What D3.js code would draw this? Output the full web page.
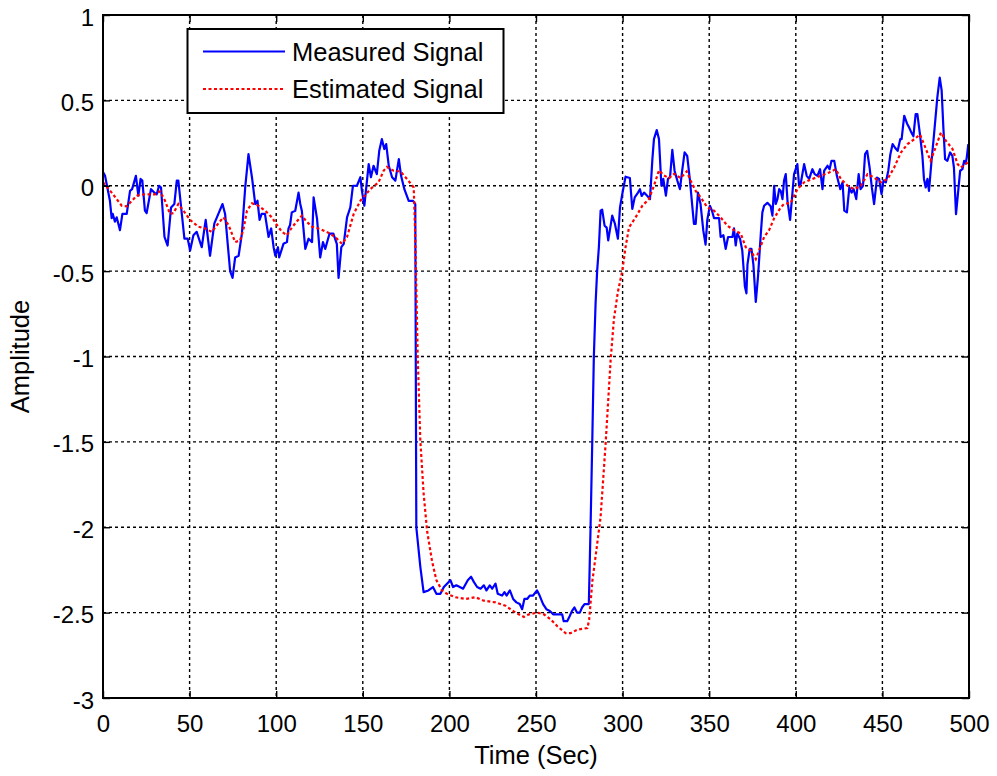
<!DOCTYPE html>
<html><head><meta charset="utf-8">
<script src="https://cdn.jsdelivr.net/npm/d3@7"></script>
<style>
html,body{margin:0;padding:0;background:#fff;}
text{font-family:"Liberation Sans",Arial,Helvetica,sans-serif;fill:#000;}
</style></head>
<body><svg id="chart" width="997" height="776"></svg>
<script>
// ---- data ----
const measuredTime = [0,1.2,4,5,5.6,6.9,7.9,9.8,11.2,13.7,15.6,16.8,19,20.4,21.7,22.7,24.2,25.2,27.7,29.6,31,32.4,33.5,35.5,37.3,39.3,41.2,42.6,43.5,47,48.9,50.3,52.2,54.1,57,59.3,61.8,64.3,66.6,69,70.5,72,73.4,74.8,76.3,78.3,80.2,82.1,84,86,87.9,89.2,90.4,91.6,93.5,95.6,97.1,98.5,99.5,101,101.7,104.2,106.2,107.1,108,109,111,112.9,113.9,114.8,116.8,118.7,120.7,121.6,123.6,125.4,127,128.3,130.8,133,135,136,137.6,139,140.9,142.8,144.3,146.6,148.6,149.5,150.9,153.4,154.7,156.2,158.1,159.5,161,162.4,163.5,165,166.9,168.8,170.8,172.1,174,176.5,179,180.3,180.9,183.2,185.1,187.9,190.5,192.5,194.8,196.8,200.6,202.1,204,206,207.9,210.6,212.5,214.1,216,218,219.9,221.4,223.3,224.7,226.6,227.9,230.4,231.8,233,234.9,236.8,238.7,240.6,242,243.3,244.9,246.4,248.3,250.6,252.1,254.1,256,258,259.9,262.2,265.1,266,268,269.5,270.8,272.2,273.7,275.3,276.6,278,279.5,280.5,281.5,282.5,283.4,284.4,285.3,286.3,287.3,288.2,289.6,290.8,291.7,294,295.5,297.3,298.5,299.8,301.7,304.2,305.6,307,308.9,310,311,312.4,314.3,315.8,317.2,318.1,319.7,321,322.4,323.5,325,326.2,327.4,328.7,330,331.6,333.1,334.4,335.8,337.3,338.9,340.3,341.2,342.2,343.5,345,346.6,347.9,348.9,350.4,351.6,352.8,355.7,356.6,358.2,359.5,360.9,363.4,364.3,365.3,366.2,367.8,369.1,370.6,371.5,372.1,373.4,374.4,375.5,376.9,378.2,379.8,380.7,381.7,383.6,385.5,386.5,387.5,388.4,389.4,390.4,391.3,392.3,393.2,394.2,395.2,396.7,398,399,400.9,401.9,402.8,404.8,406.3,407.7,409.6,410.9,412.5,414,415.4,416.4,418.3,419.5,420.6,422.2,423.7,425.7,427,428,429.5,430.9,432.2,433.4,434.9,436.3,437.4,438.8,440,441.2,442.6,443.9,445.2,446.9,448.1,449.5,450.6,452,453.4,454.6,455.9,457.2,458.8,460.3,461.1,462.6,464.2,465.5,466.8,467.9,469.2,470.2,471.7,473.1,474,475,476,476.9,478.2,479.8,481.7,483.1,484.2,485.2,486.2,487.5,489.1,490.4,491.3,492.5,493.6,494.9,496.2,497.2,498,498.6,499.6];
const measuredValue = [0.08,0.058,-0.088,-0.19,-0.165,-0.21,-0.185,-0.26,-0.165,-0.165,-0.03,-0.02,0.058,-0.058,0.04,0.03,-0.146,-0.16,-0.02,-0.04,-0.05,0,-0.01,-0.3,-0.35,-0.127,-0.107,0.03,0.03,-0.31,-0.31,-0.38,-0.29,-0.27,-0.36,-0.2,-0.41,-0.22,-0.165,-0.107,-0.165,-0.34,-0.5,-0.54,-0.42,-0.41,-0.28,-0.01,0.185,0.05,-0.107,-0.088,-0.2,-0.165,-0.165,-0.3,-0.25,-0.36,-0.41,-0.36,-0.42,-0.34,-0.33,-0.25,-0.23,-0.156,-0.146,-0.04,-0.107,-0.146,-0.37,-0.31,-0.33,-0.068,-0.195,-0.42,-0.33,-0.37,-0.28,-0.28,-0.34,-0.54,-0.36,-0.34,-0.185,-0.127,0,0,0.05,-0.03,-0.117,0.127,0.05,0.117,0.068,0.205,0.273,0.215,0.244,0.117,0.05,0.03,0.156,0.058,-0.02,-0.088,-0.088,-0.107,-2.0,-2.23,-2.38,-2.37,-2.35,-2.39,-2.39,-2.35,-2.31,-2.35,-2.34,-2.35,-2.36,-2.31,-2.29,-2.32,-2.35,-2.36,-2.34,-2.37,-2.34,-2.36,-2.33,-2.39,-2.4,-2.38,-2.4,-2.37,-2.42,-2.44,-2.45,-2.48,-2.42,-2.42,-2.4,-2.4,-2.37,-2.4,-2.45,-2.48,-2.49,-2.51,-2.51,-2.51,-2.55,-2.55,-2.52,-2.49,-2.47,-2.5,-2.5,-2.47,-2.45,-2.45,-2.45,-2.0,-1.49,-1.0,-0.69,-0.5,-0.36,-0.146,-0.14,-0.234,-0.245,-0.32,-0.175,-0.22,-0.31,-0.127,-0.05,0.053,0.045,-0.136,-0.068,-0.04,-0.02,-0.06,-0.04,-0.06,-0.078,0.156,0.273,0.326,0.273,0,0.04,-0.058,0.04,0.05,0.21,0.088,0.03,-0.02,0.088,0.195,0.175,0.03,-0.127,-0.224,-0.224,-0.04,-0.107,-0.263,-0.345,-0.2,-0.117,-0.146,-0.19,-0.19,-0.3,-0.29,-0.37,-0.3,-0.3,-0.25,-0.35,-0.28,-0.31,-0.38,-0.59,-0.63,-0.46,-0.37,-0.37,-0.46,-0.68,-0.53,-0.28,-0.156,-0.117,-0.1,-0.12,-0.175,0,-0.107,-0.078,-0.02,-0.03,-0.078,0.03,0.068,-0.088,-0.2,-0.049,0.068,0.127,0,0.01,0.127,0.058,0.04,0.097,0.068,0.058,0.097,-0.02,0.088,0.117,0.097,0.146,0.146,0.058,-0.02,0.02,-0.146,-0.156,-0.01,-0.04,-0.02,-0.078,0.068,-0.02,0,0.185,0.204,0.107,-0.01,-0.107,0.048,0.04,-0.049,0.03,0.02,0.088,0.185,0.244,0.224,0.204,0.273,0.273,0.41,0.365,0.34,0.31,0.29,0.42,0.42,0.3,0.175,0.04,-0.01,0.04,-0.03,0.127,0.3,0.516,0.633,0.56,0.34,0.156,0.146,0.195,0.175,0.107,-0.166,-0.049,0.088,0.097,0.146,0.13,0.156,0.244];

const estimatedTime = [0,5,10.8,13.7,19.5,24.2,30,33,35.8,38.7,40.7,43.5,46.4,50.3,55.1,59,62.8,66.6,69.5,72.5,76.3,79.2,81.2,83.1,86,89.8,93.6,97.5,100.4,103.3,106.2,109,111,114.8,117.5,120.7,125.4,131.2,135,138,140.9,144.7,148.6,154.3,159.1,162,163.9,167.8,171.7,175.5,179.4,180.3,181.7,183.2,185.1,187.1,190,192.5,195.7,198.6,203.5,209.2,215,219.9,226.6,232.4,238.2,243,245.9,250.8,254.6,258.5,262.3,267.1,270,273.9,279.7,280.7,282.6,283.4,287.3,290.2,293.1,295,297.3,299.8,301.7,303.7,307.5,311.4,315.2,318.1,321,323.9,326.8,329.7,333.5,337,339.3,342.2,345.1,348.9,352.8,356.6,360.5,364.3,368.2,371.1,374,376.9,378.8,381.7,384.6,387.5,391.3,393.2,397.1,400.9,404.8,409.6,414.5,419.3,423.1,426,429.9,433.7,437.6,441.4,445.2,449.1,453,456.8,460.7,464.5,469.2,471.7,474,477.8,480.7,483.8,486.7,490.5,493.4,495.3,499.2,500];
const estimatedValue = [0.02,-0.04,-0.117,-0.12,-0.058,-0.05,-0.05,-0.033,-0.088,-0.165,-0.16,-0.107,-0.146,-0.2,-0.24,-0.25,-0.27,-0.22,-0.185,-0.23,-0.33,-0.32,-0.25,-0.146,-0.103,-0.117,-0.146,-0.185,-0.23,-0.27,-0.29,-0.245,-0.22,-0.175,-0.21,-0.24,-0.253,-0.28,-0.31,-0.34,-0.3,-0.166,-0.088,-0.02,0.02,0.088,0.11,0.088,0.084,0.04,-0.01,-0.3,-1.0,-1.49,-1.8,-2.02,-2.2,-2.31,-2.37,-2.39,-2.41,-2.42,-2.41,-2.43,-2.44,-2.46,-2.5,-2.525,-2.51,-2.5,-2.51,-2.54,-2.58,-2.62,-2.62,-2.6,-2.59,-2.54,-2.31,-2.25,-1.94,-1.51,-1.02,-0.78,-0.62,-0.5,-0.36,-0.244,-0.185,-0.117,-0.078,0,0.09,0.06,0.045,0.07,0.045,0.084,0.03,-0.03,-0.068,-0.127,-0.146,-0.185,-0.234,-0.26,-0.28,-0.36,-0.38,-0.43,-0.38,-0.3,-0.26,-0.19,-0.127,-0.107,-0.1,-0.02,0.02,0.04,0.058,0.078,0.097,0.04,0,-0.02,0,0.068,0.048,0.02,0.04,0.107,0.195,0.244,0.279,0.3,0.244,0.146,0.224,0.312,0.263,0.215,0.127,0.107,0.136,0.14];

const xTicks = [0,50,100,150,200,250,300,350,400,450,500];
const yTicks = [1,0.5,0,-0.5,-1,-1.5,-2,-2.5,-3];
const seriesNames = ["Measured Signal","Estimated Signal"];
const xLabel = "Time (Sec)";
const yLabel = "Amplitude";

// ---- layout ----
const L = 103, R = 969, T = 15, B = 698;
const svg = d3.select("#chart");
const x = d3.scaleLinear().domain([0,500]).range([L,R]);
const y = d3.scaleLinear().domain([-3,1]).range([B,T]);

// grid
const grid = svg.append("g");
grid.selectAll("line.vx").data(xTicks.filter(d=>d>0&&d<500)).enter().append("line")
  .attr("x1",d=>x(d)).attr("x2",d=>x(d)).attr("y1",T).attr("y2",B)
  .attr("stroke","#000").attr("stroke-width",1.4).attr("stroke-dasharray","3,3");
grid.selectAll("line.hy").data(yTicks.filter(d=>d>-3&&d<1)).enter().append("line")
  .attr("x1",L).attr("x2",R).attr("y1",d=>y(d)).attr("y2",d=>y(d))
  .attr("stroke","#000").attr("stroke-width",1.4).attr("stroke-dasharray","3,3");

// lines
const mData = measuredTime.map((t,i)=>[t,measuredValue[i]]);
const eData = estimatedTime.map((t,i)=>[t,estimatedValue[i]]);
const line = d3.line().x(d=>x(d[0])).y(d=>y(d[1]));
svg.append("path").attr("d",line(mData)).attr("fill","none").attr("stroke","#0000ff").attr("stroke-width",2.2).attr("stroke-linejoin","round");
svg.append("path").attr("d",line(eData)).attr("fill","none").attr("stroke","#ff0000").attr("stroke-width",2.2).attr("stroke-dasharray","3,2.5");

// axes (ticks inward, labels)
const tickLen = 7;
const xb = svg.append("g").attr("transform",`translate(0,${B})`)
  .call(d3.axisBottom(x).tickValues(xTicks).tickSize(-tickLen).tickPadding(17).tickFormat(d3.format("d")));
const xt = svg.append("g").attr("transform",`translate(0,${T})`)
  .call(d3.axisTop(x).tickValues(xTicks).tickSize(-tickLen).tickFormat(""));
const yl = svg.append("g").attr("transform",`translate(${L},0)`)
  .call(d3.axisLeft(y).tickValues(yTicks).tickSize(-tickLen).tickPadding(9).tickFormat(d=>String(d)));
const yr = svg.append("g").attr("transform",`translate(${R},0)`)
  .call(d3.axisRight(y).tickValues(yTicks).tickSize(-tickLen).tickFormat(""));
[xb,xt,yl,yr].forEach(g=>{
  g.select(".domain").remove();
  g.selectAll(".tick line").attr("stroke","#000").attr("stroke-width",1.4);
  g.selectAll("text").attr("font-size",24).attr("font-family","Liberation Sans, Arial, sans-serif").attr("fill","#000");
});
yl.selectAll("text").attr("dy","0.42em");
// frame
svg.append("rect").attr("x",L).attr("y",T).attr("width",R-L).attr("height",B-T)
  .attr("fill","none").attr("stroke","#000").attr("stroke-width",2);

// axis labels
svg.append("text").attr("x",(L+R)/2).attr("y",764).attr("text-anchor","middle").attr("font-size",25.5).text(xLabel);
svg.append("text").attr("transform",`translate(29,${(T+B)/2}) rotate(-90)`).attr("text-anchor","middle").attr("font-size",25.5).text(yLabel);

// legend
const lg = svg.append("g");
lg.append("rect").attr("x",187.5).attr("y",29).attr("width",316).attr("height",84)
  .attr("fill","#fff").attr("stroke","#000").attr("stroke-width",2);
const legY = [51.5, 89];
const legStyles = [{c:"#0000ff",dash:null},{c:"#ff0000",dash:"3,2.5"}];
seriesNames.forEach((n,i)=>{
  const l = lg.append("line").attr("x1",203).attr("x2",285).attr("y1",legY[i]).attr("y2",legY[i])
    .attr("stroke",legStyles[i].c).attr("stroke-width",2);
  if(legStyles[i].dash) l.attr("stroke-dasharray",legStyles[i].dash);
  lg.append("text").attr("x",292).attr("y",legY[i]+9).attr("font-size",25.5).text(n);
});
</script></body></html>
